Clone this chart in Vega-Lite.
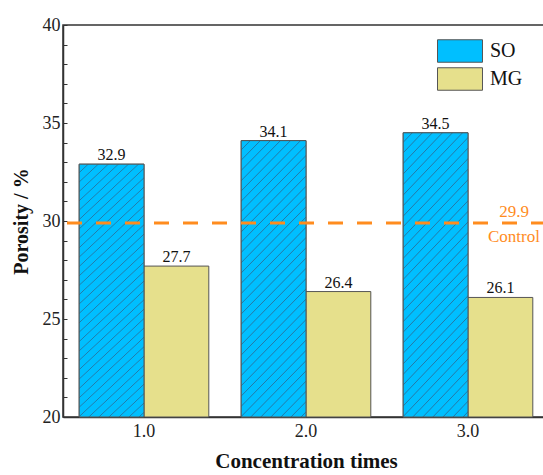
{
  "$schema": "https://vega.github.io/schema/vega-lite/v6.json",
  "width": 486,
  "height": 392,
  "autosize": {"type": "none"},
  "padding": {"left": 63, "top": 25, "right": -6, "bottom": 58},
  "background": "white",
  "config": {
    "font": "Liberation Serif",
    "view": {"stroke": "#333", "strokeWidth": 1.5},
    "axis": {"grid": false, "domainColor": "#333", "domainWidth": 1.5, "tickColor": "#333", "labelFont": "Liberation Serif", "labelFontSize": 18, "labelColor": "#222", "titleFont": "Liberation Serif", "titleFontWeight": "bold", "titleColor": "#111"}
  },
  "datasets": {
    "bars": [
      {"conc": "1.0", "group": "SO", "value": 32.9},
      {"conc": "1.0", "group": "MG", "value": 27.7},
      {"conc": "2.0", "group": "SO", "value": 34.1},
      {"conc": "2.0", "group": "MG", "value": 26.4},
      {"conc": "3.0", "group": "SO", "value": 34.5},
      {"conc": "3.0", "group": "MG", "value": 26.1}
    ],
    "control": [
      {"conc": "3.0", "value": 29.9, "name": "Control"}
    ]
  },
  "data": {"name": "bars"},
  "encoding": {
    "x": {"field": "conc", "type": "nominal", "scale": {"paddingInner": 0.2, "paddingOuter": 0.1},
      "axis": {"title": "Concentration times", "titleFontSize": 21, "labelAngle": 0, "tickSize": -4, "labelPadding": 9, "titlePadding": 10}},
    "xOffset": {"field": "group", "type": "nominal", "scale": {"domain": ["SO", "MG"], "paddingInner": 0, "paddingOuter": 0}},
    "y": {"field": "value", "type": "quantitative", "scale": {"domain": [20, 40], "zero": false, "nice": false},
      "axis": {"title": "Porosity / %", "titleFontSize": 20, "values": [20,21,22,23,24,25,26,27,28,29,30,31,32,33,34,35,36,37,38,39,40], "labelExpr": "datum.value % 5 === 0 ? datum.label : ''", "tickSize": -4, "labelPadding": 7, "titlePadding": 11}}
  },
  "layer": [
    {
      "mark": {"type": "bar", "stroke": "#555", "strokeWidth": 1},
      "encoding": {
        "y2": {"datum": 20},
        "fill": {"field": "group", "type": "nominal", "scale": {"domain": ["SO", "MG"], "range": ["#00bfff", "#e6e08c"]},
          "legend": {"title": null, "orient": "none", "legendX": 385, "legendY": 14, "padding": 0,
            "symbolType": "M-2,-1L2,-1L2,1L-2,1Z", "symbolSize": 506, "symbolStrokeColor": "#555", "symbolStrokeWidth": 1, "symbolOpacity": 1,
            "labelOffset": 18, "labelFont": "Liberation Serif", "labelFontSize": 20, "labelColor": "#111", "rowPadding": 0}}
      }
    },
    {
      "transform": [{"filter": "datum.group === 'SO'"}],
      "mark": {"type": "bar", "stroke": "#555", "strokeWidth": 1,
        "fill": {"gradient": "linear", "x1": 0, "y1": 0, "x2": 0.28, "y2": 1.17,
          "stops": [
            {"offset": 0, "color": "#00bfff"},
            {"offset": 0.024, "color": "#00bfff"}, {"offset": 0.027, "color": "#2479a6"}, {"offset": 0.030, "color": "#00bfff"},
            {"offset": 0.054, "color": "#00bfff"}, {"offset": 0.057, "color": "#2479a6"}, {"offset": 0.060, "color": "#00bfff"},
            {"offset": 0.084, "color": "#00bfff"}, {"offset": 0.087, "color": "#2479a6"}, {"offset": 0.090, "color": "#00bfff"},
            {"offset": 0.114, "color": "#00bfff"}, {"offset": 0.117, "color": "#2479a6"}, {"offset": 0.120, "color": "#00bfff"},
            {"offset": 0.144, "color": "#00bfff"}, {"offset": 0.147, "color": "#2479a6"}, {"offset": 0.150, "color": "#00bfff"},
            {"offset": 0.174, "color": "#00bfff"}, {"offset": 0.177, "color": "#2479a6"}, {"offset": 0.180, "color": "#00bfff"},
            {"offset": 0.204, "color": "#00bfff"}, {"offset": 0.207, "color": "#2479a6"}, {"offset": 0.210, "color": "#00bfff"},
            {"offset": 0.234, "color": "#00bfff"}, {"offset": 0.237, "color": "#2479a6"}, {"offset": 0.240, "color": "#00bfff"},
            {"offset": 0.264, "color": "#00bfff"}, {"offset": 0.267, "color": "#2479a6"}, {"offset": 0.270, "color": "#00bfff"},
            {"offset": 0.294, "color": "#00bfff"}, {"offset": 0.297, "color": "#2479a6"}, {"offset": 0.300, "color": "#00bfff"},
            {"offset": 0.324, "color": "#00bfff"}, {"offset": 0.327, "color": "#2479a6"}, {"offset": 0.330, "color": "#00bfff"},
            {"offset": 0.354, "color": "#00bfff"}, {"offset": 0.357, "color": "#2479a6"}, {"offset": 0.360, "color": "#00bfff"},
            {"offset": 0.384, "color": "#00bfff"}, {"offset": 0.387, "color": "#2479a6"}, {"offset": 0.390, "color": "#00bfff"},
            {"offset": 0.414, "color": "#00bfff"}, {"offset": 0.417, "color": "#2479a6"}, {"offset": 0.420, "color": "#00bfff"},
            {"offset": 0.444, "color": "#00bfff"}, {"offset": 0.447, "color": "#2479a6"}, {"offset": 0.450, "color": "#00bfff"},
            {"offset": 0.474, "color": "#00bfff"}, {"offset": 0.477, "color": "#2479a6"}, {"offset": 0.480, "color": "#00bfff"},
            {"offset": 0.504, "color": "#00bfff"}, {"offset": 0.507, "color": "#2479a6"}, {"offset": 0.510, "color": "#00bfff"},
            {"offset": 0.534, "color": "#00bfff"}, {"offset": 0.537, "color": "#2479a6"}, {"offset": 0.540, "color": "#00bfff"},
            {"offset": 0.564, "color": "#00bfff"}, {"offset": 0.567, "color": "#2479a6"}, {"offset": 0.570, "color": "#00bfff"},
            {"offset": 0.594, "color": "#00bfff"}, {"offset": 0.597, "color": "#2479a6"}, {"offset": 0.600, "color": "#00bfff"},
            {"offset": 0.624, "color": "#00bfff"}, {"offset": 0.627, "color": "#2479a6"}, {"offset": 0.630, "color": "#00bfff"},
            {"offset": 0.654, "color": "#00bfff"}, {"offset": 0.657, "color": "#2479a6"}, {"offset": 0.660, "color": "#00bfff"},
            {"offset": 0.684, "color": "#00bfff"}, {"offset": 0.687, "color": "#2479a6"}, {"offset": 0.690, "color": "#00bfff"},
            {"offset": 0.714, "color": "#00bfff"}, {"offset": 0.717, "color": "#2479a6"}, {"offset": 0.720, "color": "#00bfff"},
            {"offset": 0.744, "color": "#00bfff"}, {"offset": 0.747, "color": "#2479a6"}, {"offset": 0.750, "color": "#00bfff"},
            {"offset": 0.774, "color": "#00bfff"}, {"offset": 0.777, "color": "#2479a6"}, {"offset": 0.780, "color": "#00bfff"},
            {"offset": 0.804, "color": "#00bfff"}, {"offset": 0.807, "color": "#2479a6"}, {"offset": 0.810, "color": "#00bfff"},
            {"offset": 0.834, "color": "#00bfff"}, {"offset": 0.837, "color": "#2479a6"}, {"offset": 0.840, "color": "#00bfff"},
            {"offset": 0.864, "color": "#00bfff"}, {"offset": 0.867, "color": "#2479a6"}, {"offset": 0.870, "color": "#00bfff"},
            {"offset": 0.894, "color": "#00bfff"}, {"offset": 0.897, "color": "#2479a6"}, {"offset": 0.900, "color": "#00bfff"},
            {"offset": 0.924, "color": "#00bfff"}, {"offset": 0.927, "color": "#2479a6"}, {"offset": 0.930, "color": "#00bfff"},
            {"offset": 0.954, "color": "#00bfff"}, {"offset": 0.957, "color": "#2479a6"}, {"offset": 0.960, "color": "#00bfff"},
            {"offset": 0.984, "color": "#00bfff"}, {"offset": 0.987, "color": "#2479a6"}, {"offset": 0.990, "color": "#00bfff"},
            {"offset": 1, "color": "#00bfff"}
          ]}},
      "encoding": {"y2": {"datum": 20}}
    },
    {
      "mark": {"type": "text", "baseline": "bottom", "dy": -1, "font": "Liberation Serif", "fontSize": 16, "fontWeight": "normal", "color": "#111"},
      "encoding": {"text": {"field": "value", "type": "quantitative", "format": ".1f"}}
    },
    {
      "data": {"name": "control"},
      "mark": {"type": "rule", "color": "#ff8c1e", "strokeWidth": 3, "strokeDash": [15, 14], "strokeDashOffset": -3},
      "encoding": {"y": {"field": "value", "type": "quantitative"}, "x": null, "xOffset": null}
    },
    {
      "data": {"name": "control"},
      "mark": {"type": "text", "color": "#ff8c1e", "font": "Liberation Serif", "fontSize": 17, "fontWeight": "normal", "dx": 46, "dy": -11},
      "encoding": {"text": {"field": "value", "type": "quantitative", "format": ".1f"}, "xOffset": null}
    },
    {
      "data": {"name": "control"},
      "mark": {"type": "text", "color": "#ff8c1e", "font": "Liberation Serif", "fontSize": 17, "fontWeight": "normal", "dx": 46, "dy": 14},
      "encoding": {"text": {"field": "name", "type": "nominal"}, "xOffset": null}
    }
  ]
}
